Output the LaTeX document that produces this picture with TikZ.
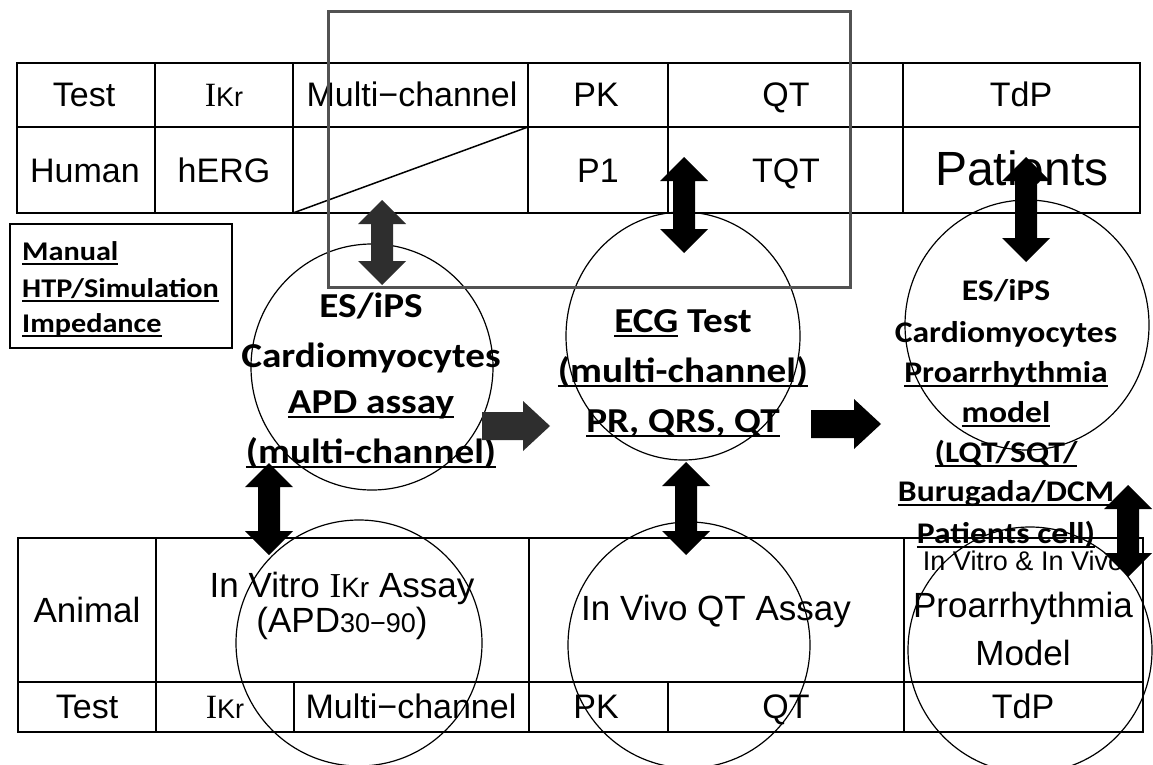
\documentclass[tikz,border=0pt]{standalone}
\usepackage{fontspec}
\setmainfont{Liberation Sans}
\newfontfamily\calfont{Carlito}[FakeStretch=1.12]
\newfontfamily\serfont{Liberation Serif}
\usetikzlibrary{shapes.geometric,calc}

% underlined text with a solid bar below the baseline
\newsavebox\ulbox
\newcommand\ulx[1]{\sbox\ulbox{#1}\rlap{\rule[-5pt]{\wd\ulbox}{2pt}}\usebox\ulbox}
% I_Kr label: serif I followed by smaller Kr
\newcommand\ikr[1]{{\serfont I}{\fontsize{#1}{#1}\selectfont Kr}}

% vertical block arrow with heads at both ends: style, top tip, bottom tip
\newcommand\vdarrow[3]{%
  \fill[#1] let \p1=(#2), \p2=(#3) in
    (\x1,\y1) -- (\x1-24pt,\y1-24pt) -- (\x1-11pt,\y1-24pt) -- (\x1-11pt,\y2+24pt)
    -- (\x1-24pt,\y2+24pt) -- (\x1,\y2) -- (\x1+24pt,\y2+24pt) -- (\x1+11pt,\y2+24pt)
    -- (\x1+11pt,\y1-24pt) -- (\x1+24pt,\y1-24pt) -- cycle;}
% horizontal block arrow pointing right: style, tail, tip
\newcommand\rarrow[3]{%
  \fill[#1] let \p1=(#2), \p2=(#3) in
    (\x1,\y1+14pt) -- (\x2-27pt,\y1+14pt) -- (\x2-27pt,\y1+25pt) -- (\x2,\y1)
    -- (\x2-27pt,\y1-25pt) -- (\x2-27pt,\y1-14pt) -- (\x1,\y1-14pt) -- cycle;}

\begin{document}
\begin{tikzpicture}[x=1pt,y=-1pt,
  grid/.style={line width=1.3pt, line cap=rect},
  tabtxt/.style={anchor=base, inner sep=0pt, font=\fontsize{34}{40}\selectfont},
  rowtxt/.style={anchor=base, inner sep=0pt, font=\fontsize{35}{40}\selectfont},
  boxtxt/.style={anchor=base west, inner sep=0pt, font=\calfont\bfseries\fontsize{27}{32}\selectfont},
  circtxt/.style={anchor=base, inner sep=0pt, font=\calfont\bfseries\fontsize{35}{40}\selectfont},
  circsmall/.style={anchor=base, inner sep=0pt, font=\calfont\bfseries\fontsize{30}{36}\selectfont},
  bubble/.style={draw, ellipse, line width=1.2pt, inner sep=0pt},
  frame/.style={draw=black!68, line width=3pt},
  blackarrow/.style={fill=black},
  greyarrow/.style={fill=black!82}]

\path[fill=white] (0,0) rectangle (1153,765);
\useasboundingbox (0,0) rectangle (1153,765);

% ---------- upper table (human) ----------
\draw[grid] (17,63) rectangle (1140,213);
\draw[grid] (17,127) -- (1140,127);
\foreach \x in {155,293,528,668,903} \draw[grid] (\x,63) -- (\x,213);
\draw[line width=1.5pt] (293,213) -- (528,127);

\node[tabtxt] (hTest) at (84,107) {Test};
\node[tabtxt] (hIkr) at (224,107) {\ikr{27}};
\node[tabtxt] (hMulti) at (412,107) {Multi−channel};
\node[tabtxt] (hPK) at (596,107) {PK};
\node[tabtxt] (hQT) at (786,107) {QT};
\node[tabtxt] (hTdP) at (1021,107) {TdP};
\node[tabtxt] (hHuman) at (85,182) {Human};
\node[tabtxt] (hERG) at (224,182) {hERG};
\node[tabtxt] (hP1) at (598,182) {P1};
\node[tabtxt] (hTQT) at (786,182) {TQT};
\node[anchor=base, inner sep=0pt, font=\fontsize{48}{52}\selectfont] (hPat) at (1022,185) {Patients};

% ---------- lower table (animal) ----------
\draw[grid] (18,538) rectangle (1143,732);
\draw[grid] (18,682) -- (1143,682);
\foreach \x in {156,529,904} \draw[grid] (\x,538) -- (\x,732);
\foreach \x in {294,668} \draw[grid] (\x,682) -- (\x,732);

\node[rowtxt] (aAnimal) at (87,622) {Animal};
\node[rowtxt] (aVitro) at (342,597) {In Vitro \ikr{28} Assay};
\node[rowtxt] (aAPD) at (342,632) {(APD{\fontsize{27}{30}\selectfont 30−90})};
\node[rowtxt] (aVivo) at (716,620) {In Vivo QT Assay};
\node[anchor=base, inner sep=0pt, font=\fontsize{27}{30}\selectfont] (aBoth) at (1023,570) {In Vitro \& In Vivo};
\node[rowtxt] (aPro) at (1023,617) {Proarrhythmia};
\node[rowtxt] (aModel) at (1023,665) {Model};
\node[tabtxt] (aTest) at (87,718) {Test};
\node[tabtxt] (aIkr) at (225,718) {\ikr{27}};
\node[tabtxt] (aMulti) at (411,718) {Multi−channel};
\node[tabtxt] (aPK) at (596,718) {PK};
\node[tabtxt] (aQT) at (786,718) {QT};
\node[tabtxt] (aTdP) at (1023,718) {TdP};

% ---------- method box ----------
\node[draw, line width=1.5pt, minimum width=222pt, minimum height=124pt, anchor=north west, inner sep=0pt] (methods) at (9,223) {};
\node[boxtxt] (mManual) at (22,260) {\ulx{Manual}};
\node[boxtxt] (mHTP) at (22,297) {\ulx{HTP/Simulation}};
\node[boxtxt] (mImp) at (22,332) {\ulx{Impedance}};

% ---------- texts of the bubbles ----------
\node[circtxt] (t1a) at (371,317) {ES/iPS};
\node[circtxt] (t1b) at (371,367) {Cardiomyocytes};
\node[circtxt] (t1c) at (371,413) {\ulx{APD assay}};
\node[circtxt] (t1d) at (371,463) {\ulx{(multi-channel)}};

\node[circtxt] (t2a) at (683,332) {\ulx{ECG} Test};
\node[circtxt] (t2b) at (683,382) {\ulx{(multi-channel)}};
\node[circtxt] (t2c) at (683,432) {\ulx{PR, QRS, QT}};

\node[circsmall] (t3a) at (1006,300) {ES/iPS};
\node[circsmall] (t3b) at (1006,342) {Cardiomyocytes};
\node[circsmall] (t3c) at (1006,382) {\ulx{Proarrhythmia}};
\node[circsmall] (t3d) at (1006,422) {\ulx{model}};
\node[circsmall] (t3e) at (1006,462) {\ulx{(LQT/SQT/}};
\node[circsmall] (t3f) at (1006,501) {\ulx{Burugada/DCM}};
\node[circsmall] (t3g) at (1006,543) {\ulx{Patients cell)}};

% ---------- bubbles ----------
\node[bubble, minimum width=242pt, minimum height=246pt] (c1) at (372,367) {};
\node[bubble, minimum width=234pt, minimum height=248pt] (c2) at (683,336) {};
\node[bubble, minimum width=244pt, minimum height=250pt] (c3) at (1027,325) {};
\node[bubble, minimum width=246pt, minimum height=246pt] (c4) at (359,643) {};
\node[bubble, minimum width=242pt, minimum height=246pt] (c5) at (689,645) {};
\node[bubble, minimum width=244pt, minimum height=246pt] (c6) at (1030,650) {};

% ---------- frame round the in-silico / ECG part ----------
\draw[frame] (328,12) rectangle (850,287);

% ---------- arrows ----------
\coordinate (aTop) at (382,200);  \coordinate (aBot) at (382,285);
\coordinate (bTop) at (684,157);  \coordinate (bBot) at (684,253);
\coordinate (cTop) at (1026,157); \coordinate (cBot) at (1026,262);
\coordinate (dTop) at (269,463);  \coordinate (dBot) at (269,555);
\coordinate (eTop) at (686,462);  \coordinate (eBot) at (686,555);
\coordinate (fTop) at (1128,485); \coordinate (fBot) at (1128,577);
\coordinate (gTail) at (482,426); \coordinate (gTip) at (550,426);
\coordinate (hTail) at (811,424); \coordinate (hTip) at (881,424);

\vdarrow{greyarrow}{aTop}{aBot}
\vdarrow{blackarrow}{bTop}{bBot}
\vdarrow{blackarrow}{cTop}{cBot}
\vdarrow{blackarrow}{dTop}{dBot}
\vdarrow{blackarrow}{eTop}{eBot}
\vdarrow{blackarrow}{fTop}{fBot}
\rarrow{greyarrow}{gTail}{gTip}
\rarrow{blackarrow}{hTail}{hTip}
\end{tikzpicture}
\end{document}
